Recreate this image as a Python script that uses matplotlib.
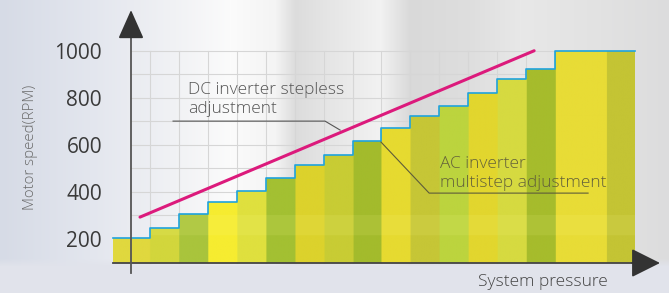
import numpy as np
import matplotlib
matplotlib.use("Agg")
import matplotlib.pyplot as plt
from matplotlib.colors import to_rgb

plt.rcParams['font.family'] = ['Open Sans', 'DejaVu Sans']

# data ---------------------------------------------
# step edges along "System pressure" (no ticks, arbitrary unit = one step width)
step_edges = [0, 1.28, 2.28, 3.28, 4.28, 5.28, 6.28, 7.28, 8.28, 9.24,
              10.24, 11.24, 12.24, 13.24, 14.24, 15.24, 18.0]
# AC inverter multistep motor speed (RPM)
ac_speed = [203, 248, 306, 359, 405, 458, 514, 559, 618, 670,
            723, 765, 819, 879, 921, 1000]
# DC inverter stepless line
dc_x = [0.93, 14.52]
dc_speed = [293, 1000]
y_ticks = [200, 400, 600, 800, 1000]
grid_y = [300, 400, 500, 600, 700, 800, 900, 1000]
base_speed = 98  # where the x axis sits

# styles -------------------------------------------
stripe_bounds = step_edges[:-1] + [17.0, 18.0]
stripe_colors = ['#e0d83e', '#d2d63c', '#a9c43c', '#f6ec30', '#dfe03e', '#a3c032',
                 '#dcd22c', '#c8cc34', '#a3bb2c', '#e6da30', '#c6c636', '#bcd43e',
                 '#e2d62e', '#d6da40', '#a6bc2c', '#e8dc36', '#c4c434']

fig = plt.figure(figsize=(6.69, 2.93), dpi=100)
ax = fig.add_axes([0, 0, 1, 1])
x0, x1 = -3.897, 19.17
y0, y1 = -29.5, 1215.7
ax.set_xlim(x0, x1)
ax.set_ylim(y0, y1)
ax.axis('off')

# background (blurred photo look)
bg_stops = [(0, '#d6dbe6'), (90, '#e3e6ee'), (170, '#f0f1f4'), (230, '#fbfbfb'),
            (275, '#f4f4f4'), (295, '#dcdcdc'), (330, '#e6e6e6'), (380, '#f2f2f2'),
            (410, '#d9d9d9'), (470, '#dedede'), (520, '#e8e8e8'), (600, '#e2e2e2'),
            (669, '#dcdcdd')]
xs = np.arange(669)
row = np.zeros((669, 3))
for ch in range(3):
    row[:, ch] = np.interp(xs, [s[0] for s in bg_stops], [to_rgb(s[1])[ch] for s in bg_stops])
bg = np.repeat(row[None, :, :], 293, axis=0)
bottom = np.array(to_rgb('#e1e3eb'))
for r in range(293):
    if r > 258:
        t = min(1.0, (r - 258) / 8)
        bg[r] = bg[r] * (1 - t) + bottom * t
ax.imshow(bg, extent=[x0, x1, y0, y1], aspect='auto', zorder=0, origin='upper')

# grid
for gx in step_edges[1:16]:
    ax.plot([gx, gx], [base_speed, 1000], color='#d6d6d6', lw=0.8, zorder=1)
for gy in grid_y:
    ax.plot([0.62, step_edges[15]], [gy, gy], color='#d6d6d6', lw=0.8, zorder=1)

# multistep bars: textured fill clipped to the step shape
levels = ac_speed + [ac_speed[-1]]
poly = ax.fill_between(step_edges, base_speed, levels, step='post',
                       color='none', lw=0, zorder=2)
nx = 900
tex_x = np.linspace(0, 18, nx)
tex = np.zeros((200, nx, 3))
for i in range(nx):
    k = np.searchsorted(stripe_bounds, tex_x[i], side='right') - 1
    k = min(max(k, 0), len(stripe_colors) - 1)
    tex[:, i, :] = to_rgb(stripe_colors[k])
tex_y = np.linspace(1000, base_speed, 200)
band = (tex_y > 215) & (tex_y < 300)
tex[band] = tex[band] * 0.9 + np.array([1.0, 1.0, 0.6]) * 0.1
img = ax.imshow(tex, extent=[0, 18, base_speed, 1000], aspect='auto', zorder=2,
                origin='upper')
img.set_clip_path(poly.get_paths()[0], transform=ax.transData)
ax.step(step_edges, levels, where='post', color='#1fa3dd', lw=1.2, zorder=3)

# DC stepless line
ax.plot(dc_x, dc_speed, color='#dc1a7c', lw=2.2, solid_capstyle='round', zorder=4)

# axes with arrows
ax.plot([0, 17.98], [base_speed, base_speed], color='#444444', lw=1.3, zorder=5)
ax.annotate('', xy=(18.86, base_speed), xytext=(17.9, base_speed),
            arrowprops=dict(arrowstyle='-|>,head_length=0.9,head_width=0.45',
                            color='#333333', lw=1.3, shrinkA=0, shrinkB=0,
                            mutation_scale=20), zorder=5)
ax.plot([0.62, 0.62], [55, 1090], color='#555555', lw=1.3, zorder=5)
ax.annotate('', xy=(0.62, 1173), xytext=(0.62, 1070),
            arrowprops=dict(arrowstyle='-|>,head_length=0.9,head_width=0.4',
                            color='#333333', lw=1.3, shrinkA=0, shrinkB=0,
                            mutation_scale=20), zorder=5)

for v in y_ticks:
    ax.text(-0.38, v, str(v), ha='right', va='center_baseline', fontsize=15,
            color='#3a3a3a', zorder=6)
ax.text(-2.86, 590, 'Motor speed(RPM)', rotation=90, ha='center', va='center',
        fontsize=10.8, color='#6b6b6b', fontweight='light', zorder=6)

# annotations
ax.plot([2.07, 7.31, 7.83], [701, 701, 663], color='#555555', lw=0.8, zorder=6)
ax.text(2.59, 735, 'DC inverter stepless\nadjustment', ha='left', va='baseline',
        fontsize=12.5, color='#555555', fontweight='light', linespacing=1.3, zorder=6)
ax.plot([9.24, 10.9, 16.38], [612, 395, 395], color='#5e5c3a', lw=0.8, zorder=6)
ax.text(11.28, 422, 'AC inverter\nmultistep adjustment', ha='left', va='baseline',
        fontsize=12.5, color='#64623a', fontweight='light', linespacing=1.25, zorder=6)
ax.text(12.59, 0, 'System pressure', ha='left', va='baseline', fontsize=12.5,
        color='#444444', fontweight='light', zorder=6)

fig.savefig('out.png', dpi=100)
